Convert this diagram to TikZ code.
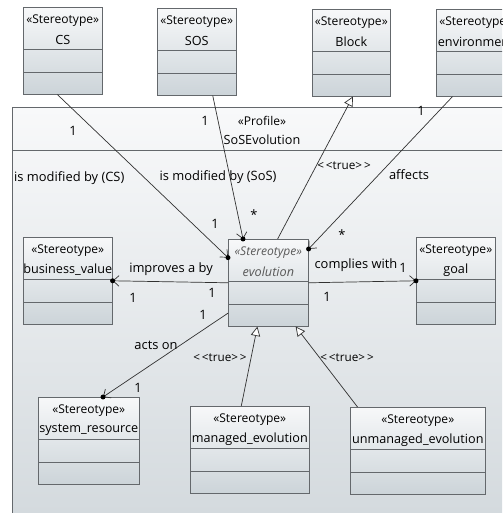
\documentclass[tikz,border=0pt]{standalone}
\usepackage{fontspec}
\setmainfont{Open Sans}
\usetikzlibrary{arrows.meta}

\definecolor{boxtop}{RGB}{247,248,249}
\definecolor{boxbot}{RGB}{204,212,217}
\definecolor{pkgtop}{RGB}{248,249,250}
\definecolor{pkgbot}{RGB}{212,218,222}
\definecolor{edge}{RGB}{50,50,50}
\definecolor{frame}{RGB}{100,104,108}
\def\px{0.03cm}

\tikzset{
  stbox/.style={draw=frame, line width=0.5pt, top color=boxtop, bottom color=boxbot,
    minimum height=87*\px, inner sep=0pt, anchor=north west},
  divider/.style={draw=frame, line width=0.5pt},
  sttag/.style={font=\fontsize{10.3}{12}\selectfont, inner sep=0pt},
  stname/.style={font=\fontsize{10.8}{12}\selectfont, inner sep=0pt},
  lbl/.style={font=\fontsize{11}{13}\selectfont, inner sep=0pt},
  truelbl/.style={font=\fontsize{10}{12}\selectfont, inner sep=0pt},
  assoc/.style={draw=edge, line width=0.6pt, -{Straight Barb[length=5pt, width=9pt]}},
  gen/.style={draw=edge, line width=0.6pt, -{Triangle[open, length=8pt, width=8pt, fill=white]}},
  owned/.style={circle, fill=black, inner sep=1.5pt},
}

\begin{document}
\begin{tikzpicture}[x=0.03cm, y=-0.03cm]
  \clip (0,0) rectangle (502,513);

  % Profile package
  \node[draw=frame, line width=0.8pt, top color=pkgtop, bottom color=pkgbot, anchor=north west,
    minimum width=498*\px, minimum height=406*\px, inner sep=0pt] (profile) at (12,107) {};
  \draw[divider] ([yshift=-43*\px]profile.north west) -- ([yshift=-43*\px]profile.north east);
  \node[sttag] (profileTag) at (262,121) {«Profile»};
  \node[stname] (profileName) at (262,140) {SoSEvolution};

  % Stereotype boxes
  \foreach \nm/\x/\y/\w/\txt in {CS/23/7/79/CS, SOS/157/8/79/SOS, Block/312/9/78/Block,
      env/436/9/79/environment, bv/23/237/89/business\_value, goal/416/237/79/goal,
      sr/38/397/101/system\_resource, me/190/406/119/managed\_evolution,
      ue/350/407/135/unmanaged\_evolution} {
    \node[stbox, minimum width=\w*\px] (\nm) at (\x,\y) {};
    \node[sttag] (\nm Tag) at ([yshift=-14*\px]\nm.north) {«Stereotype»};
    \node[stname] (\nm Name) at ([yshift=-33*\px]\nm.north) {\txt};
  }
  \node[stbox, minimum width=80*\px] (evolution) at (228,239) {};
  \node[sttag, text=black!65, font=\fontsize{10.3}{12}\selectfont\itshape] (evolutionTag)
    at ([yshift=-14*\px]evolution.north) {«Stereotype»};
  \node[stname, text=black!65, font=\fontsize{10.8}{12}\selectfont\itshape] (evolutionName)
    at ([yshift=-33*\px]evolution.north) {evolution};

  % Compartment lines
  \foreach \nm in {CS, SOS, Block, env, bv, goal, sr, me, ue, evolution} {
    \draw[divider] ([yshift=-42*\px]\nm.north west) -- ([yshift=-42*\px]\nm.north east);
    \draw[divider] ([yshift=-65*\px]\nm.north west) -- ([yshift=-65*\px]\nm.north east);
  }

  % Associations
  \draw[assoc] (CS.263) -- (evolution.148) node[owned, pos=1] (dotCS) {};
  \draw[assoc] (SOS.290) -- (evolution.120) node[owned, pos=1] (dotSOS) {};
  \draw[assoc] (env.242) -- (evolution.40) node[owned, pos=1] (dotEnv) {};
  \draw[assoc] (evolution.west) -- (bv.east) node[owned, pos=1] (dotBv) {};
  \draw[assoc] (evolution.east) -- (goal.west) node[owned, pos=1] (dotGoal) {};
  \draw[assoc] (evolution.217) -- (sr.72) node[owned, pos=1] (dotSr) {};

  % Generalizations
  \draw[gen] (evolution.78) -- (Block.272);
  \draw[gen] (me.101) -- (evolution.256);
  \draw[gen] (ue.144) -- (evolution.302);

  % Association labels
  \node[lbl] (csOne) at (73,131) {1};
  \node[lbl, anchor=west] (csName) at (14,178) {is modified by (CS)};
  \node[lbl] (csEvo) at (215,224) {1};
  \node[lbl] (sosOne) at (205,121) {1};
  \node[lbl] (sosName) at (218,177) {is modified by (SoS)};
  \node[lbl] (sosEvo) at (254,215) {*};
  \node[truelbl] (blockTrue) at (344,166) {<\,<true>\,>};
  \node[lbl] (envOne) at (421,111) {1};
  \node[lbl] (envName) at (409,175) {affects};
  \node[lbl] (envEvo) at (342,235) {*};
  \node[lbl] (bvName) at (171,269) {improves a by};
  \node[lbl] (bvOne) at (133,298) {1};
  \node[lbl] (bvEvo) at (212,293) {1};
  \node[lbl] (goalName) at (356,265) {complies with};
  \node[lbl] (goalOne) at (403,268) {1};
  \node[lbl] (goalEvo) at (327,297) {1};
  \node[lbl] (srEvo) at (203,315) {1};
  \node[lbl] (srName) at (156,345) {acts on};
  \node[lbl] (srOne) at (138,388) {1};
  \node[truelbl] (meTrue) at (220,358) {<\,<true>\,>};
  \node[truelbl] (ueTrue) at (347,358) {<\,<true>\,>};
\end{tikzpicture}
\end{document}
